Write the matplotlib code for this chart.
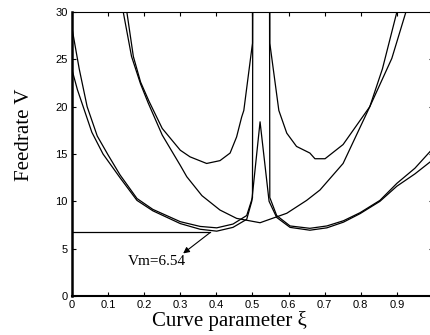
import numpy as np
import matplotlib
matplotlib.use('Agg')
import matplotlib.pyplot as plt

# curves (xi, V); values above 30 run off the top
xi_top = [0.0, 0.02, 0.042, 0.07, 0.1, 0.133, 0.18, 0.224, 0.3, 0.355, 0.401, 0.446,
          0.484, 0.500, 0.507, 0.541, 0.548, 0.567, 0.604, 0.659, 0.706, 0.752,
          0.798, 0.853, 0.9, 0.95, 1.0]
v_top = [28.3, 24.0, 20.0, 16.9, 14.9, 12.8, 10.3, 9.15, 7.85, 7.35, 7.2, 7.6,
         8.5, 10.4, 200, 200, 10.4, 8.5, 7.4, 7.15, 7.4, 7.95,
         8.8, 10.1, 11.9, 13.5, 15.6]

xi_peak = [0.0, 0.015, 0.031, 0.055, 0.086, 0.133, 0.18, 0.224, 0.3, 0.355, 0.401, 0.446,
           0.484, 0.498, 0.521, 0.546, 0.567, 0.604, 0.659, 0.706, 0.752,
           0.798, 0.853, 0.9, 0.95, 1.0]
v_peak = [23.9, 21.8, 20.0, 17.3, 15.0, 12.5, 10.1, 9.0, 7.65, 7.05, 6.85, 7.25,
          8.1, 10.0, 18.4, 10.0, 8.3, 7.25, 6.95, 7.2, 7.8,
          8.7, 10.0, 11.6, 12.9, 14.4]

xi_u = [0.152, 0.17, 0.19, 0.213, 0.25, 0.3, 0.327, 0.373, 0.41, 0.438, 0.456, 0.47, 0.476,
        0.500, 0.501, 0.547, 0.548, 0.573, 0.595, 0.622, 0.659, 0.673, 0.701,
        0.751, 0.825, 0.86, 0.9]
v_u = [30.0, 25.3, 22.6, 20.6, 17.7, 15.4, 14.7, 14.0, 14.3, 15.1, 16.8, 18.9, 19.6,
       26.7, 200, 200, 26.7, 19.6, 17.2, 15.8, 15.1, 14.5, 14.5,
       16.0, 20.0, 24.0, 30.0]

xi_big = [0.142, 0.165, 0.19, 0.211, 0.25, 0.3, 0.318, 0.36, 0.41, 0.456, 0.521, 0.595,
          0.65, 0.687, 0.751, 0.825, 0.886, 0.925]
v_big = [30.0, 25.3, 22.4, 20.4, 17.0, 13.8, 12.6, 10.6, 9.08, 8.2, 7.74, 8.74,
         10.1, 11.2, 14.0, 20.0, 25.1, 30.0]

vm = 6.73
vm_end = 0.382
vm_text = 'Vm=6.54'

xticks = [0, 0.1, 0.2, 0.3, 0.4, 0.5, 0.6, 0.7, 0.8, 0.9]
xtick_labels = ['0', '0.1', '0.2', '0.3', '0.4', '0.5', '0.6', '0.7', '0.8', '0.9']
yticks = [0, 5, 10, 15, 20, 25, 30]

fig = plt.figure(figsize=(4.31, 3.35), dpi=100)
ax = fig.add_axes([0.167, 0.1164, 0.8376, 0.8478])

for xs, ys in [(xi_top, v_top), (xi_peak, v_peak), (xi_u, v_u), (xi_big, v_big)]:
    ax.plot(xs, ys, color='black', lw=0.9)

ax.plot([0, vm_end], [vm, vm], color='black', lw=0.9)
ax.annotate('', xy=(0.308, 4.5), xytext=(vm_end, vm - 0.05),
            arrowprops=dict(arrowstyle='-|>', color='black', lw=0.8,
                            mutation_scale=9, shrinkA=0, shrinkB=0))
ax.text(0.155, 3.6, vm_text, fontsize=11, family='Liberation Serif', va='center', ha='left')

ax.set_xlim(0, 1.0)
ax.set_ylim(0, 30)
ax.set_xticks(xticks)
ax.set_xticklabels(xtick_labels)
ax.set_yticks(yticks)
ax.tick_params(direction='in', length=3, width=0.8, top=True, right=True,
               labelsize=8, pad=3)
for lab in ax.get_xticklabels() + ax.get_yticklabels():
    lab.set_family('Liberation Sans')

ax.spines['left'].set_linewidth(1.8)
ax.spines['bottom'].set_linewidth(1.5)
ax.spines['top'].set_linewidth(0.8)
ax.spines['right'].set_linewidth(0.8)

fig.text(229.5 / 431, 1 - 321 / 335, 'Curve parameter ξ', fontsize=15,
         family='Liberation Serif', ha='center', va='center')
fig.text(25 / 431, 1 - 135 / 335, 'Feedrate V', fontsize=15, rotation=90,
         family='Liberation Serif', ha='center', va='center')

fig.savefig('out.png', dpi=100)
